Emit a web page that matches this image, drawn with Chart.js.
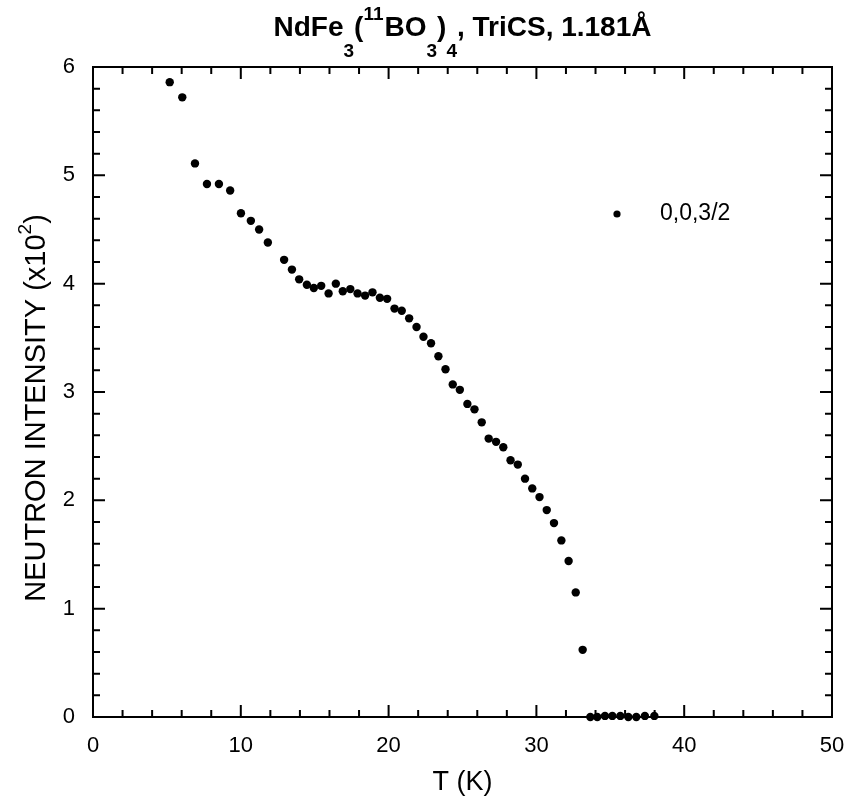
<!DOCTYPE html>
<html lang="en">
<head>
    <meta charset="UTF-8">
    <title>NdFe3(11BO3)4 TriCS</title>
    <script src="https://cdn.jsdelivr.net/npm/chart.js"></script>
    <style>
        body {
            margin: 0;
            padding: 0;
            background-color: #fff;
        }

        #chart-box {
            width: 850px;
            height: 798px;
        }
    </style>
</head>
<body>
<div id="chart-box">
    <canvas id="chart"></canvas>
</div>

<script>
    // temperature (K) and neutron intensity (x10^2) for the 0,0,3/2 reflection
    var temperature = [
        5.19, 6.04, 6.90, 7.71, 8.52, 9.28, 10.01, 10.68, 11.24, 11.83,
        12.93, 13.46, 13.95, 14.47, 14.94, 15.44, 15.94, 16.43, 16.90, 17.41,
        17.90, 18.41, 18.91, 19.41, 19.90, 20.40, 20.89, 21.39, 21.89, 22.36,
        22.87, 23.37, 23.85, 24.34, 24.82, 25.33, 25.81, 26.30, 26.77, 27.27,
        27.76, 28.25, 28.74, 29.23, 29.72, 30.21, 30.70, 31.19, 31.69, 32.18,
        32.66, 33.13, 33.65, 34.12, 34.64, 35.14, 35.68, 36.22, 36.76, 37.34,
        37.98
    ];
    var intensity = [
        5.86, 5.72, 5.11, 4.92, 4.92, 4.86, 4.65, 4.58, 4.50, 4.38,
        4.22, 4.13, 4.04, 3.99, 3.96, 3.98, 3.91, 4.00, 3.93, 3.95,
        3.91, 3.89, 3.92, 3.87, 3.86, 3.77, 3.75, 3.68, 3.60, 3.51,
        3.45, 3.33, 3.21, 3.07, 3.02, 2.89, 2.84, 2.72, 2.57, 2.54,
        2.49, 2.37, 2.33, 2.20, 2.11, 2.03, 1.91, 1.79, 1.63, 1.44,
        1.15, 0.62, 0.00, 0.00, 0.01, 0.01, 0.01, 0.00, 0.00, 0.01,
        0.01
    ];
    var seriesName = '0,0,3/2';
    var xTicks = [0, 10, 20, 30, 40, 50];
    var yTicks = [0, 1, 2, 3, 4, 5, 6];

    var points = temperature.map(function (t, i) {
        return {x: t, y: intensity[i]};
    });

    var FONT = '"Liberation Sans", Arial, Helvetica, sans-serif';

    // draws text pieces with sub/superscripts, returns width
    function drawRich(ctx, parts, x, y, measureOnly) {
        var cx = x;
        parts.forEach(function (p) {
            ctx.font = p.font;
            if (!measureOnly) ctx.fillText(p.text, cx, y + (p.dy || 0));
            cx += ctx.measureText(p.text).width + (p.gap || 0);
        });
        return cx - x;
    }

    var framePlugin = {
        id: 'frame',
        beforeDatasetsDraw: function (chart) {
            var ctx = chart.ctx;
            var a = chart.chartArea;
            var xs = chart.scales.x;
            var ys = chart.scales.y;
            ctx.save();
            ctx.strokeStyle = '#000';
            ctx.lineWidth = 2;
            ctx.strokeRect(a.left, a.top, a.right - a.left, a.bottom - a.top);
            ctx.beginPath();
            for (var v = 0; v <= 50; v += 2) {
                var px = xs.getPixelForValue(v);
                var len = (v % 10 === 0) ? 12 : 7;
                ctx.moveTo(px, a.bottom);
                ctx.lineTo(px, a.bottom - len);
                ctx.moveTo(px, a.top);
                ctx.lineTo(px, a.top + len);
            }
            for (var i = 0; i <= 30; i++) {
                var py = ys.getPixelForValue(i / 5);
                var l2 = (i % 5 === 0) ? 12 : 7;
                ctx.moveTo(a.left, py);
                ctx.lineTo(a.left + l2, py);
                ctx.moveTo(a.right, py);
                ctx.lineTo(a.right - l2, py);
            }
            ctx.stroke();
            ctx.restore();
        },
        afterDraw: function (chart) {
            var ctx = chart.ctx;
            var a = chart.chartArea;
            var mid = (a.left + a.right) / 2;
            ctx.save();
            ctx.fillStyle = '#000';
            ctx.textBaseline = 'alphabetic';
            ctx.textAlign = 'left';

            // title
            var big = 'bold 28px ' + FONT;
            var small = 'bold 19px ' + FONT;
            var title = [
                {text: 'NdFe', font: big},
                {text: '3', font: small, dy: 21},
                {text: '(', font: big},
                {text: '11', font: small, dy: -16, gap: 1},
                {text: 'BO', font: big},
                {text: '3', font: small, dy: 21},
                {text: ')', font: big},
                {text: '4', font: small, dy: 21},
                {text: ', TriCS, 1.181\u00c5', font: big}
            ];
            var tw = drawRich(ctx, title, 0, 0, true);
            drawRich(ctx, title, mid - tw / 2, 36);

            // y axis title
            var yt = [
                {text: 'NEUTRON INTENSITY (x10', font: '29px ' + FONT},
                {text: '2', font: '19px ' + FONT, dy: -14},
                {text: ')', font: '29px ' + FONT}
            ];
            ctx.save();
            ctx.translate(45, 408);
            ctx.rotate(-Math.PI / 2);
            var yw = drawRich(ctx, yt, 0, 0, true);
            drawRich(ctx, yt, -yw / 2, 0);
            ctx.restore();

            // x axis title
            ctx.font = '27px ' + FONT;
            ctx.textAlign = 'center';
            ctx.fillText('T (K)', mid, 790);

            // legend
            ctx.beginPath();
            ctx.arc(617, 214, 3.6, 0, Math.PI * 2);
            ctx.fill();
            ctx.textAlign = 'left';
            ctx.textBaseline = 'middle';
            ctx.font = '23px ' + FONT;
            ctx.fillText(seriesName, 660, 214);
            ctx.restore();
        }
    };

    var ctx = document.getElementById('chart').getContext('2d');
    new Chart(ctx, {
        type: 'scatter',
        data: {
            datasets: [{
                label: seriesName,
                data: points,
                backgroundColor: '#000',
                borderWidth: 0,
                pointRadius: 4.2,
                pointHoverRadius: 4.2,
                clip: false
            }]
        },
        options: {
            responsive: true,
            maintainAspectRatio: false,
            animation: false,
            layout: {
                padding: {top: 67, right: 18, left: 0, bottom: 0}
            },
            plugins: {
                legend: {display: false},
                title: {display: false},
                tooltip: {enabled: false}
            },
            scales: {
                x: {
                    type: 'linear',
                    min: 0,
                    max: 50,
                    afterBuildTicks: function (scale) {
                        scale.ticks = xTicks.map(function (v) { return {value: v}; });
                    },
                    afterFit: function (scale) {
                        scale.height = 81;
                        scale.paddingLeft = 0;
                        scale.paddingRight = 0;
                    },
                    grid: {display: false, drawTicks: false},
                    border: {display: false},
                    ticks: {
                        color: '#000',
                        padding: 16,
                        maxRotation: 0,
                        font: {family: FONT, size: 22}
                    }
                },
                y: {
                    type: 'linear',
                    min: 0,
                    max: 6,
                    afterBuildTicks: function (scale) {
                        scale.ticks = yTicks.map(function (v) { return {value: v}; });
                    },
                    afterFit: function (scale) {
                        scale.width = 93;
                        scale.paddingTop = 0;
                        scale.paddingBottom = 0;
                    },
                    grid: {display: false, drawTicks: false},
                    border: {display: false},
                    ticks: {
                        color: '#000',
                        padding: 18,
                        font: {family: FONT, size: 22}
                    }
                }
            }
        },
        plugins: [framePlugin]
    });
</script>
</body>
</html>
